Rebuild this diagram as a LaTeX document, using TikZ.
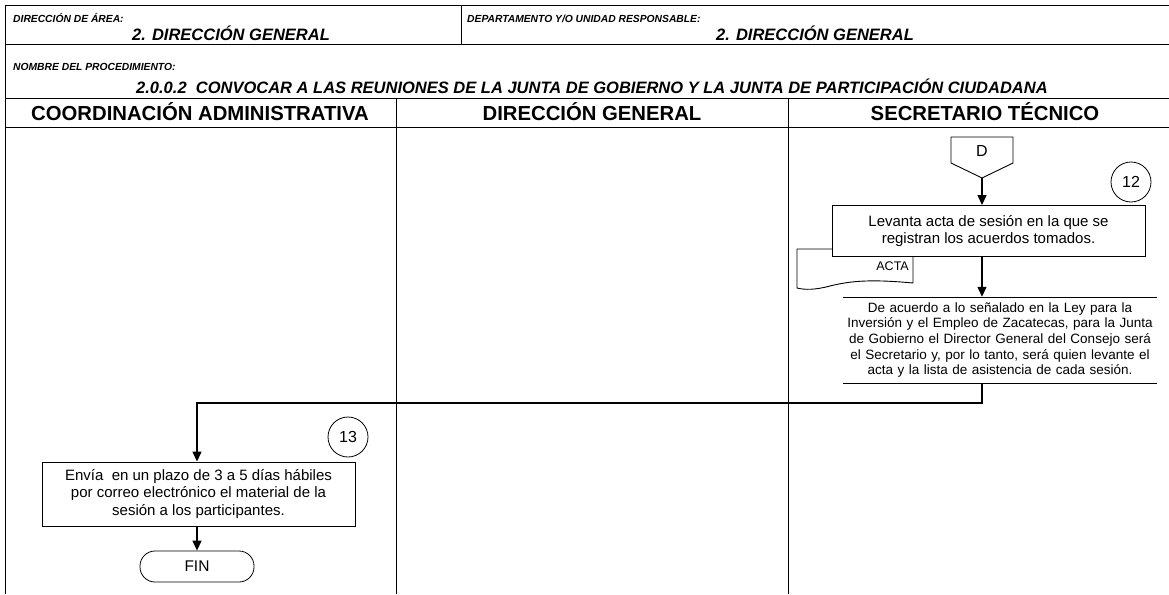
\documentclass[tikz,border=0pt]{standalone}
\usepackage{fontspec}
\setmainfont{Liberation Sans}
\usetikzlibrary{arrows.meta,shapes.geometric}

\tikzset{
  marco/.style={line width=0.9pt},
  titulo/.style={font=\bfseries\itshape\fontsize{10.3}{12}\selectfont, anchor=base west, inner sep=0pt},
  area/.style={font=\bfseries\itshape\fontsize{16.5}{18}\selectfont, anchor=base},
  columna/.style={font=\bfseries\fontsize{20.3}{22}\selectfont, anchor=base},
  proceso/.style={draw, line width=0.9pt, fill=white, align=center, inner sep=2pt,
    font=\fontsize{15}{17.5}\selectfont},
  nota/.style={align=center, text width=318pt, inner sep=0pt,
    font=\fontsize{13.5}{15.6}\selectfont},
  paso/.style={draw, circle, line width=0.8pt, minimum size=40pt, inner sep=0pt,
    font=\fontsize{16}{18}\selectfont},
  fin/.style={draw, line width=0.8pt, rounded corners=15pt, minimum width=114pt,
    minimum height=31pt, font=\fontsize{15.5}{17}\selectfont},
  flecha/.style={line width=1.3pt, -{Triangle[length=10pt,width=9pt]}},
  linea/.style={line width=1.6pt, draw=black},
}

\begin{document}
\begin{tikzpicture}[x=1pt,y=-1pt]
        \useasboundingbox (0,0) rectangle (1169,594);
        %draw the form frame
        \draw[marco] (1169,5) -- (5,5) -- (5,594);
        \draw[marco] (5,44) -- (1169,44);
        \draw[marco] (5,98) -- (1169,98);
        \draw[marco] (5,127) -- (1169,127);
        \draw[marco] (461,5) -- (461,44);
        \draw[marco] (396,98) -- (396,594);
        \draw[marco] (788,98) -- (788,594);
        
        \node[titulo] (tarea) at (13,22.5) {DIRECCIÓN DE ÁREA:};
        \node[area] (area) at (231,41) {2. DIRECCIÓN GENERAL};
        \node[titulo] (tdepto) at (467,22.5) {DEPARTAMENTO Y/O UNIDAD RESPONSABLE:};
        \node[area] (depto) at (815,41) {2. DIRECCIÓN GENERAL};
        \node[titulo] (tnombre) at (13,70.5) {NOMBRE DEL PROCEDIMIENTO:};
        \node[area] (nombre) at (592,93) {2.0.0.2\ \ CONVOCAR A LAS REUNIONES DE LA JUNTA DE GOBIERNO Y LA JUNTA DE PARTICIPACIÓN CIUDADANA};
        
        \node[columna] (coord) at (200,120) {COORDINACIÓN ADMINISTRATIVA};
        \node[columna] (dir) at (592,120) {DIRECCIÓN GENERAL};
        \node[columna] (secre) at (985,120) {SECRETARIO TÉCNICO};
        
        %secretario tecnico
        \draw[line width=0.9pt] (951,137) -- (1013,137) -- (1013,163) -- (982,178) -- (951,163) -- cycle;
        \coordinate (d) at (982,178);
        \node[font=\fontsize{16}{18}\selectfont] (dletra) at (982,151) {D};
        \node[paso] (p12) at (1131,182) {12};
        
        \draw[line width=0.9pt, fill=white] (797,249) -- (913,249) -- (913,283)
          .. controls (870,279) and (850,281) .. (830,286)
          .. controls (815,290) and (805,290) .. (797,288) -- cycle;
        \node[font=\fontsize{12.5}{14}\selectfont, anchor=east, inner sep=0pt] (acta) at (909,266) {ACTA};
        \node[proceso, minimum width=313pt, minimum height=51pt] (levanta) at (988.5,231)
          {Levanta acta de sesión en la que se\\registran los acuerdos tomados.};
        
        \node[nota, minimum height=86pt] (nota) at (1000,340)
          {De acuerdo a lo señalado en la Ley para la\\Inversión y el Empleo de Zacatecas, para la Junta\\de Gobierno el Director General del Consejo será\\el Secretario y, por lo tanto, será quien levante el\\acta y la lista de asistencia de cada sesión.};
        \draw[line width=1pt] (843,297) -- (1157,297);
        \draw[line width=1pt] (843,383) -- (1157,383);
        
        \draw[flecha] (d) -- (levanta.north -| d);
        \draw[flecha] (levanta.south -| d) -- (nota.north -| d);
        
        %coordinacion administrativa
        \node[paso] (p13) at (348,437) {13};
        \node[proceso, minimum width=313pt, minimum height=64pt] (envia) at (198.5,494)
          {Envía\ \ en un plazo de 3 a 5 días hábiles\\por correo electrónico el material de la\\sesión a los participantes.};
        \node[fin] (fin) at (197,566.5) {FIN};
        
        \draw[linea] (nota.south -| d) -- ++(0,20) -| (fin.north |- 403,403);
        \draw[flecha] (fin.north |- 403,402) -- (fin.north |- envia.north);
        \draw[flecha] (fin.north |- envia.south) -- (fin.north);
        
    \end{tikzpicture}
\end{document}
